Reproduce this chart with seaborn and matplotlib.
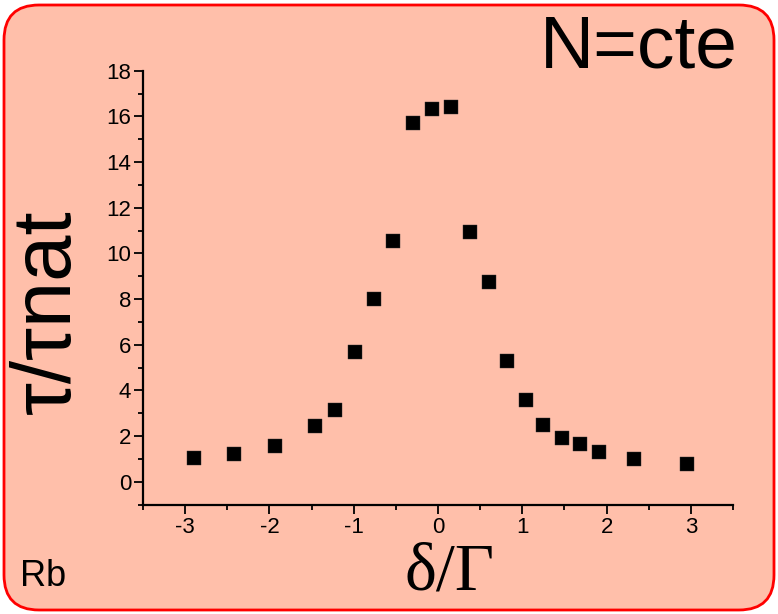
import matplotlib
matplotlib.use("Agg")
import matplotlib.pyplot as plt
import seaborn as sns
import pandas as pd
from matplotlib.patches import FancyBboxPatch

# Detuning (in units of the natural linewidth) and lifetime ratio
detuning = [-2.90, -2.42, -1.93, -1.46, -1.22, -0.99, -0.76, -0.53, -0.30, -0.07,
            0.15, 0.38, 0.60, 0.82, 1.04, 1.25, 1.47, 1.69, 1.91, 2.33, 2.95]
tau_ratio = [1.02, 1.21, 1.56, 2.45, 3.14, 5.67, 8.02, 10.53, 15.70, 16.34,
             16.43, 10.94, 8.76, 5.30, 3.58, 2.50, 1.91, 1.64, 1.30, 0.99, 0.78]
x_ticks = [-3, -2, -1, 0, 1, 2, 3]
y_ticks = [0, 2, 4, 6, 8, 10, 12, 14, 16, 18]

df = pd.DataFrame({"detuning": detuning, "tau_ratio": tau_ratio})

sns.set_theme(style="ticks")
plt.rcParams["font.family"] = ["Liberation Sans", "DejaVu Sans"]
plt.rcParams["axes.unicode_minus"] = False

fig = plt.figure(figsize=(7.78, 6.14), dpi=100)
fig.patch.set_facecolor("white")

# Rounded salmon panel with red frame, kept behind the axes
panel = FancyBboxPatch((4 / 778, 4 / 614), 770 / 778, 605 / 614,
                       boxstyle="round,pad=0,rounding_size=0.045",
                       transform=fig.transFigure, facecolor="#FFBFAA",
                       edgecolor="#FF0000", linewidth=2, zorder=-5,
                       mutation_aspect=778 / 614)
fig.patches.append(panel)

ax = fig.add_axes([143 / 778, 1 - 505 / 614, 590 / 778, (505 - 70.7) / 614])
ax.set_facecolor("none")
ax.set_zorder(2)

sns.scatterplot(data=df, x="detuning", y="tau_ratio", marker="s", s=110,
                color="black", edgecolor="#333333", linewidth=0.3, ax=ax,
                legend=False, zorder=3, clip_on=False)

ax.set_xlim(-3.5, 3.5)
ax.set_ylim(-1.02, 18)
ax.set_xticks(x_ticks)
ax.set_yticks(y_ticks)
ax.set_xticks([v + 0.5 for v in [-4] + x_ticks], minor=True)
ax.set_yticks(list(range(-1, 18, 2)), minor=True)

for side in ("top", "right"):
    ax.spines[side].set_visible(False)
for side in ("left", "bottom"):
    ax.spines[side].set_linewidth(1.6)
    ax.spines[side].set_color("black")

ax.tick_params(axis="both", which="major", direction="out", length=6.5,
               width=1.3, color="black", labelcolor="black", pad=2)
ax.tick_params(axis="both", which="minor", direction="out", length=3.5,
               width=1.3, color="black")
ax.set_xticklabels([str(v) for v in x_ticks], fontsize=16)
ax.set_yticklabels([str(v) for v in y_ticks], fontsize=16)

ax.set_xlabel("")
ax.set_ylabel("")

fig.text(450 / 778, 1 - 573 / 614, "δ/Γ", family=["Liberation Serif", "DejaVu Serif"],
         fontsize=49, ha="center", va="center", color="black")
fig.text(48 / 778, 1 - 312 / 614, "τ/τnat", fontsize=60, rotation=90,
         ha="center", va="center", color="black")
fig.text(738 / 778, 1 - 48 / 614, "N=cte", fontsize=54, ha="right",
         va="center", color="black")
fig.text(20 / 778, 1 - 577 / 614, "Rb", fontsize=26, ha="left", va="center",
         color="black")

fig.savefig("out.png", dpi=100)
